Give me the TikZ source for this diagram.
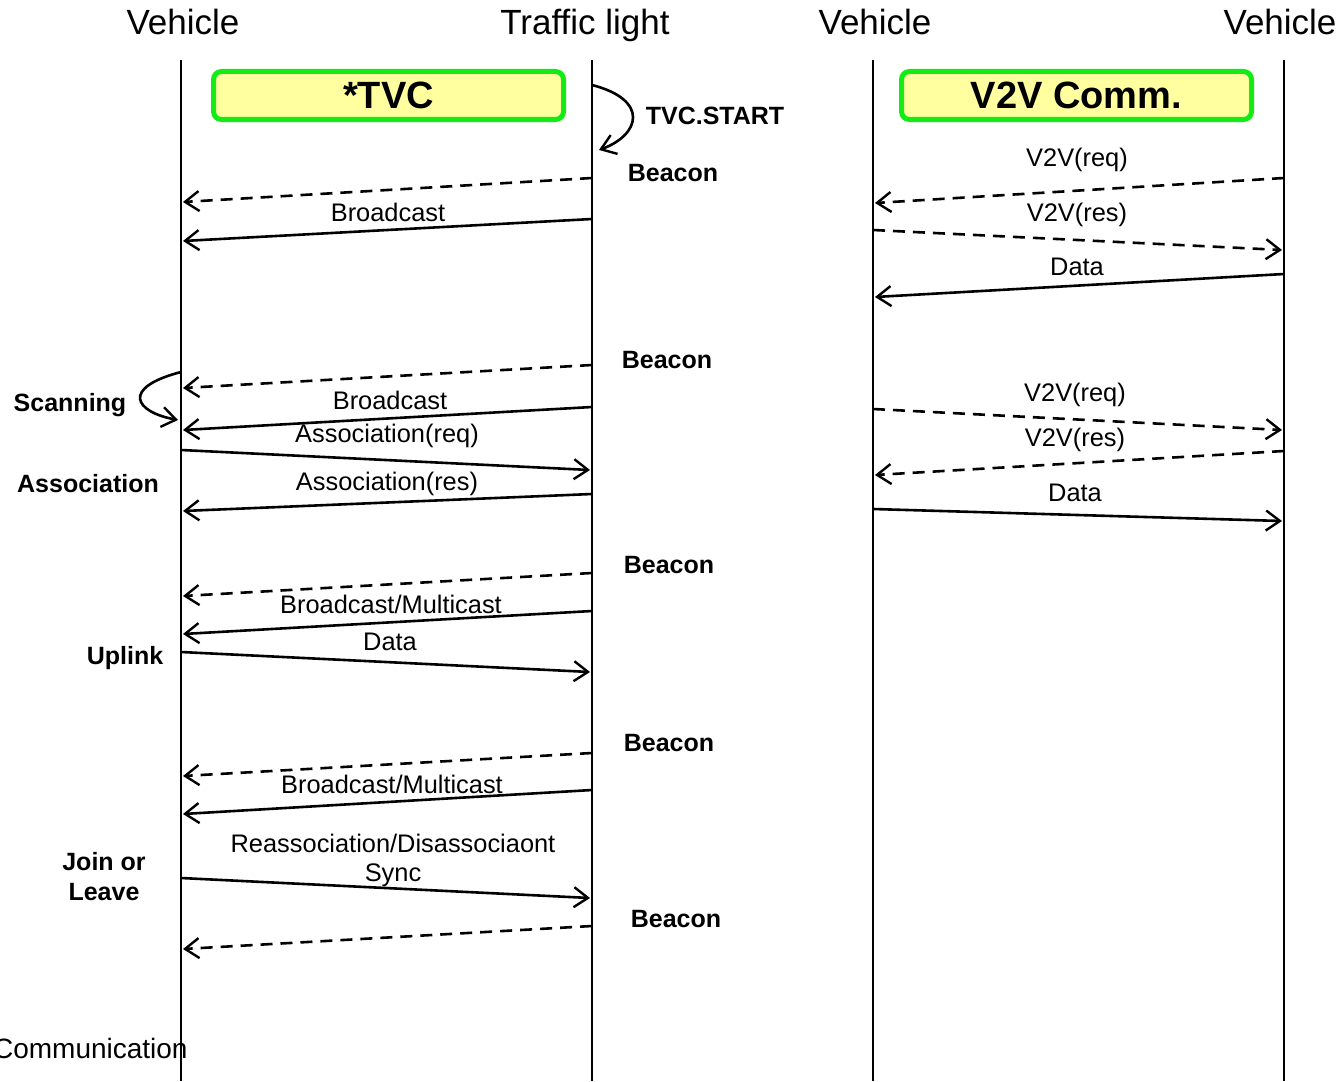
\documentclass[tikz,border=0pt]{standalone}
\usepackage{fontspec}
\setmainfont{Liberation Sans}
\usepackage{xcolor}
\usetikzlibrary{arrows.meta}

\definecolor{boxgreen}{RGB}{20,235,20}
\definecolor{boxyellow}{RGB}{255,255,160}

\tikzset{
  lifeline/.style={line width=1pt},
  msg/.style={line width=1.3pt,-{Straight Barb[length=7pt,width=10pt,line width=1.2pt]}},
  msgd/.style={msg,dash pattern=on 6pt off 4pt},
  lbl/.style={font=\fontsize{12.7}{14}\selectfont,inner sep=0pt},
  tag/.style={font=\bfseries\fontsize{12.5}{15}\selectfont,inner sep=0pt},
  head/.style={font=\fontsize{17.5}{20}\selectfont,inner sep=0pt,anchor=base},
  phase/.style={draw=boxgreen,line width=2.5pt,fill=boxyellow,rounded corners=4pt,
    minimum width=175pt,minimum height=24pt,inner sep=0pt,
    font=\bfseries\fontsize{19}{22}\selectfont},
}

\begin{document}
\begin{tikzpicture}[x=0.5pt,y=-0.5pt]
\useasboundingbox (0,0) rectangle (1337,1081);

% lifelines and headers
\foreach \n/\x in {va/181, tl/592, vb/873, vc/1284} {
  \coordinate (\n top) at (\x,60);
  \coordinate (\n bot) at (\x,1081);
  \draw[lifeline] (\n top) -- (\n bot);
}
\node[head] (hva) at (183,35) {Vehicle};
\node[head] (htl) at (585,35) {Traffic light};
\node[head] (hvb) at (875,35) {Vehicle};
\node[head] (hvc) at (1280,35) {Vehicle};

\node[phase] (tvc) at (388.5,95.5) {*TVC};
\node[phase] (v2v) at (1076.5,95.5) {V2V Comm.};

% traffic light -> vehicle
\foreach \i/\ys/\ye/\st in {1/178/202/msgd, 2/219/241/msg, 3/365/388/msgd, 4/407/430/msg,
    6/494/511/msg, 7/573/596/msgd, 8/611/634/msg, 10/753/776/msgd, 11/790/814/msg,
    13/926/949/msgd} {
  \coordinate (s\i) at (592,\ys);
  \coordinate (e\i) at (183,\ye);
  \draw[\st] (s\i) -- (e\i);
}
% vehicle -> traffic light
\foreach \i/\ys/\ye in {5/450/470, 9/652/672, 12/878/898} {
  \coordinate (s\i) at (181,\ys);
  \coordinate (e\i) at (590,\ye);
  \draw[msg] (s\i) -- (e\i);
}
% V2V
\foreach \i/\ys/\ye/\st in {1/178/203/msgd, 3/274/297/msg, 5/451/475/msgd} {
  \coordinate (vs\i) at (1284,\ys);
  \coordinate (ve\i) at (875,\ye);
  \draw[\st] (vs\i) -- (ve\i);
}
\foreach \i/\ys/\ye/\st in {2/230/250/msgd, 4/409/430/msgd, 6/509/521/msg} {
  \coordinate (vs\i) at (873,\ys);
  \coordinate (ve\i) at (1282,\ye);
  \draw[\st] (vs\i) -- (ve\i);
}

% self loops
\coordinate (ts) at (592,85);
\coordinate (te) at (599,150);
\draw[msg] (ts) .. controls (650,100) and (640,135) .. (te);
\coordinate (ss) at (181,372);
\coordinate (se) at (178,420);
\draw[msg] (ss) .. controls (120,388) and (135,412) .. (se);

% message labels
\node[lbl] (l2) at (388,212) {Broadcast};
\node[lbl] (l4) at (390,400) {Broadcast};
\node[lbl] (l5) at (387,436) {Association(req)};
\node[lbl] (l6) at (387,484) {Association(res)};
\node[lbl] (l8) at (391,604) {Broadcast/Multicast};
\node[lbl] (l9) at (390,642) {Data};
\node[lbl] (l11) at (392,784) {Broadcast/Multicast};
\node[lbl] (l12) at (393,843) {Reassociation/Disassociaont};
\node[lbl] (l12b) at (393,875) {Sync};
\node[lbl] (r1) at (1077,160) {V2V(req)};
\node[lbl] (r2) at (1077,215) {V2V(res)};
\node[lbl] (r3) at (1077,267) {Data};
\node[lbl] (r4) at (1075,395) {V2V(req)};
\node[lbl] (r5) at (1075,440) {V2V(res)};
\node[lbl] (r6) at (1075,493) {Data};

% side tags
\node[tag] (start) at (715,116) {TVC.START};
\node[tag] (b1) at (673,173) {Beacon};
\node[tag] (b2) at (667,360) {Beacon};
\node[tag] (b3) at (669,565) {Beacon};
\node[tag] (b4) at (669,743) {Beacon};
\node[tag] (b5) at (676,919) {Beacon};
\node[tag] (scan) at (70,405) {Scanning};
\node[tag] (assoc) at (88,484) {Association};
\node[tag] (up) at (125,658) {Uplink};
\node[tag,align=center] (join) at (104,877) {Join or\\Leave};
\node[lbl,font=\fontsize{14}{16}\selectfont,anchor=east] (comm) at (188,1048) {Communication};
\end{tikzpicture}
\end{document}
